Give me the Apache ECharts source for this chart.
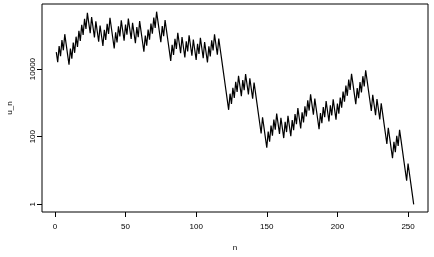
<!DOCTYPE html>
<html>
<head>
<meta charset="utf-8">
<script src="https://cdn.jsdelivr.net/npm/echarts@6/dist/echarts.min.js"></script>
<style>
html,body{margin:0;padding:0;background:#fff;}
#chart{width:434px;height:257px;}
</style>
</head>
<body>
<div id="chart"></div>
<script>
// u_n values, n = 1 .. 254
var u = [
31854, 15927, 47782, 23891, 71674, 35837, 107512, 53756, 26878, 13439,
40318, 20159, 60478, 30239, 90718, 45359, 136078, 68039, 204118, 102059,
306178, 153089, 459268, 229634, 114817, 344452, 172226, 86113, 258340, 129170,
64585, 193756, 96878, 48439, 145318, 72659, 217978, 108989, 326968, 163484,
81742, 40871, 122614, 61307, 183922, 91961, 275884, 137942, 68971, 206914,
103457, 310372, 155186, 77593, 232780, 116390, 58195, 174586, 87293, 261880,
130940, 65470, 32735, 98206, 49103, 147310, 73655, 220966, 110483, 331450,
165725, 497176, 248588, 124294, 62147, 186442, 93221, 279664, 139832, 69916,
34958, 17479, 52438, 26219, 78658, 39329, 117988, 58994, 29497, 88492,
44246, 22123, 66370, 33185, 99556, 49778, 24889, 74668, 37334, 18667,
56002, 28001, 84004, 42002, 21001, 63004, 31502, 15751, 47254, 23627,
70882, 35441, 106324, 53162, 26581, 79744, 39872, 19936, 9968, 4984,
2492, 1246, 623, 1870, 935, 2806, 1403, 4210, 2105, 6316,
3158, 1579, 4738, 2369, 7108, 3554, 1777, 5332, 2666, 1333,
4000, 2000, 1000, 500, 250, 125, 376, 188, 94, 47,
142, 71, 214, 107, 322, 161, 484, 242, 121, 364,
182, 91, 274, 137, 412, 206, 103, 310, 155, 466,
233, 700, 350, 175, 526, 263, 790, 395, 1186, 593,
1780, 890, 445, 1336, 668, 334, 167, 502, 251, 754,
377, 1132, 566, 283, 850, 425, 1276, 638, 319, 958,
479, 1438, 719, 2158, 1079, 3238, 1619, 4858, 2429, 7288,
3644, 1822, 911, 2734, 1367, 4102, 2051, 6154, 3077, 9232,
4616, 2308, 1154, 577, 1732, 866, 433, 1300, 650, 325,
976, 488, 244, 122, 61, 184, 92, 46, 23, 70,
35, 106, 53, 160, 80, 40, 20, 10, 5, 16,
8, 4, 2, 1
];
var xTicks = [0, 50, 100, 150, 200, 250];
var yTicks = [1, 100, 10000];
var xName = 'n';
var yName = 'u_n';

var data = u.map(function (v, i) { return [i + 1, v]; });

var font = 'Liberation Sans, Arial, Helvetica, sans-serif';
var chart = echarts.init(document.getElementById('chart'), null, {renderer: 'canvas'});
chart.setOption({
  animation: false,
  backgroundColor: '#fff',
  grid: {
    left: 42, right: 6, top: 4, bottom: 45,
    containLabel: false,
    outerBoundsMode: 'none',
    show: true, borderColor: '#000', borderWidth: 1, backgroundColor: 'transparent'
  },
  xAxis: {
    type: 'value',
    min: -9.12, max: 264.12,
    name: xName, nameLocation: 'middle', nameGap: 32,
    nameTextStyle: {color: '#000', fontSize: 8, fontFamily: font},
    axisLine: {show: false, onZero: false},
    splitLine: {show: false},
    axisTick: {show: true, length: 5, inside: false, customValues: xTicks, lineStyle: {color: '#000', width: 1}},
    axisLabel: {show: true, customValues: xTicks, margin: 11, color: '#000', fontSize: 8, fontFamily: font}
  },
  yAxis: {
    type: 'log', logBase: 10,
    min: 0.5918, max: 840300,
    name: yName, nameLocation: 'middle', nameGap: 28,
    nameRotate: 90,
    nameTextStyle: {color: '#000', fontSize: 8, fontFamily: font},
    axisLine: {show: false, onZero: false},
    splitLine: {show: false},
    minorTick: {show: false},
    axisTick: {show: true, length: 5, inside: false, customValues: yTicks, lineStyle: {color: '#000', width: 1}},
    axisLabel: {show: true, customValues: yTicks, rotate: 90, margin: 5, color: '#000', fontSize: 8, fontFamily: font,
      formatter: function (v) { return String(Math.round(v)); }}
  },
  series: [{
    type: 'line',
    data: data,
    showSymbol: false,
    symbol: 'none',
    lineStyle: {color: '#000', width: 1.2},
    silent: true
  }]
});
</script>
</body>
</html>
